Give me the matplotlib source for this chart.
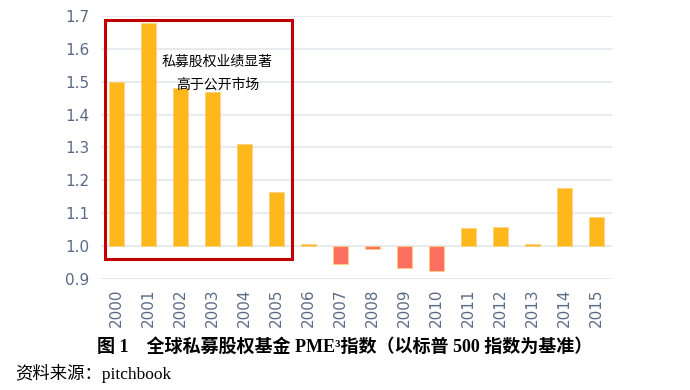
import numpy as np
import matplotlib.pyplot as plt
from matplotlib.patches import Rectangle

plt.rcParams['font.family'] = ['DejaVu Sans', 'Noto Sans CJK SC']

years = [str(y) for y in range(2000, 2016)]
pme = [1.50, 1.68, 1.48, 1.47, 1.31, 1.165, 1.005, 0.945, 0.99, 0.933,
       0.925, 1.055, 1.058, 1.005, 1.175, 1.087]
yticks = [0.9, 1.0, 1.1, 1.2, 1.3, 1.4, 1.5, 1.6, 1.7]

fig = plt.figure(figsize=(6.9, 3.9), dpi=100)
ax = fig.add_axes([0.146, 0.285, 0.741, 0.674])

x = np.arange(len(years))
vals = np.array(pme)
colors = ['#FFB81C' if v >= 1 else '#FF6F61' for v in vals]
ax.bar(x, vals - 1, bottom=1, width=0.47, color=colors,
       edgecolor='#ffd27a', linewidth=0.6, zorder=3)

ax.set_xlim(-0.5, len(years) - 0.5)
ax.set_ylim(0.9, 1.7)
ax.set_yticks(yticks)
ax.set_yticklabels([f'{t:.1f}' for t in yticks])
ax.set_xticks(x)
ax.set_xticklabels(years, rotation=90)
ax.grid(axis='y', color='#e3e6ec', linewidth=1.2, zorder=0)
for s in ax.spines.values():
    s.set_visible(False)
ax.tick_params(length=0, colors='#5b6b86', labelsize=11)
ax.tick_params(axis='y', pad=8)
ax.tick_params(axis='x', pad=7)

box = Rectangle((-0.38, 0.96), 5.85, 0.727, fill=False, edgecolor='#c00000',
                linewidth=2.2, zorder=5, clip_on=False)
ax.add_patch(box)
ax.text(3.15, 1.56, '私募股权业绩显著', ha='center', va='center', fontsize=10,
        family=['Noto Sans CJK SC'], zorder=6)
ax.text(3.15, 1.49, '高于公开市场', ha='center', va='center', fontsize=10,
        family=['Noto Sans CJK SC'], zorder=6)

fig.text(0.5, 0.11, '图 1　全球私募股权基金 PME³指数（以标普 500 指数为基准）',
         ha='center', va='center', fontsize=13, fontweight='bold',
         family=['Liberation Serif', 'Noto Sans CJK SC'])
fig.text(0.022, 0.043, '资料来源：pitchbook', ha='left', va='center', fontsize=12.5,
         family=['Liberation Serif', 'Noto Sans CJK SC'])

fig.savefig('out.png', dpi=100)
